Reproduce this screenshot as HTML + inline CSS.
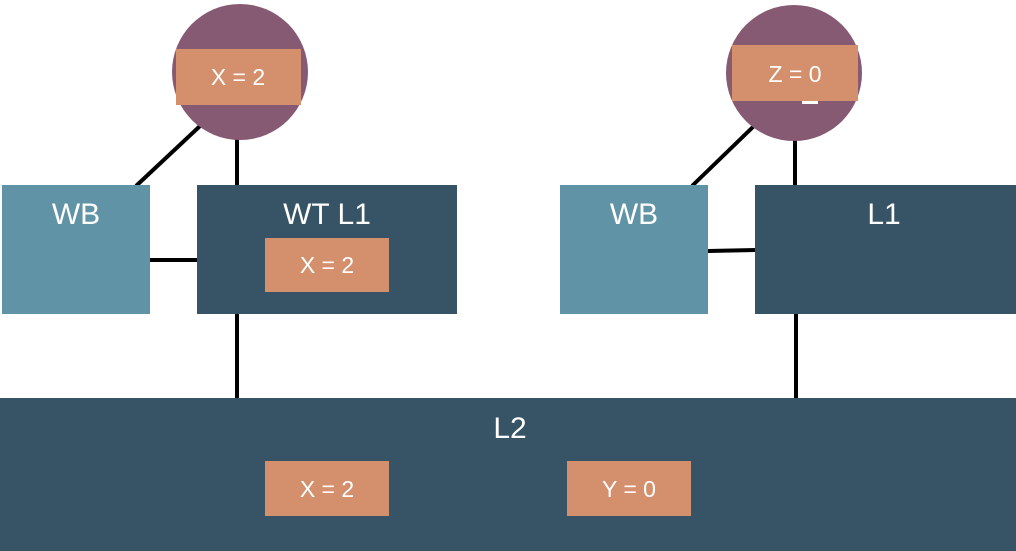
<!DOCTYPE html>
<html><head><meta charset="utf-8"><style>
html,body{margin:0;padding:0;background:#fff;}
svg{display:block;font-family:"Liberation Sans",sans-serif;}
</style></head><body>
<svg width="1016" height="551" viewBox="0 0 1016 551">
<g stroke="#000" stroke-width="4">
<line x1="200" y1="126" x2="136" y2="186"/>
<line x1="237" y1="138" x2="237" y2="186"/>
<line x1="150" y1="260" x2="198" y2="260"/>
<line x1="237" y1="313" x2="237" y2="399"/>
<line x1="754" y1="126" x2="692" y2="186"/>
<line x1="795" y1="138" x2="795" y2="186"/>
<line x1="708" y1="251" x2="756" y2="250"/>
<line x1="796" y1="313" x2="796" y2="399"/>
</g>
<circle cx="240" cy="72" r="68" fill="#875a74"/>
<rect x="176" y="49" width="125" height="56" fill="#d4906c"/>
<text x="238" y="85" fill="#fff" font-size="23" text-anchor="middle">X = 2</text>
<circle cx="794" cy="73" r="68" fill="#875a74"/>
<rect x="802" y="98" width="16" height="6" fill="#fff"/>
<rect x="732" y="45" width="126" height="56" fill="#d4906c"/>
<text x="795" y="82" fill="#fff" font-size="23" text-anchor="middle">Z = 0</text>
<rect x="2" y="185" width="148" height="129" fill="#6093a5"/>
<text x="76" y="224" fill="#fff" font-size="30" text-anchor="middle">WB</text>
<rect x="197" y="185" width="260" height="129" fill="#365465"/>
<text x="327" y="224" fill="#fff" font-size="30" text-anchor="middle">WT L1</text>
<rect x="265" y="238" width="124" height="54" fill="#d4906c"/>
<text x="327" y="273" fill="#fff" font-size="23" text-anchor="middle">X = 2</text>
<rect x="560" y="185" width="148" height="129" fill="#6093a5"/>
<text x="634" y="224" fill="#fff" font-size="30" text-anchor="middle">WB</text>
<rect x="755" y="185" width="261" height="129" fill="#365465"/>
<text x="884" y="224" fill="#fff" font-size="30" text-anchor="middle">L1</text>
<rect x="0" y="398" width="1016" height="153" fill="#365465"/>
<text x="510" y="438" fill="#fff" font-size="30" text-anchor="middle">L2</text>
<rect x="265" y="461" width="124" height="55" fill="#d4906c"/>
<text x="327" y="497" fill="#fff" font-size="23" text-anchor="middle">X = 2</text>
<rect x="567" y="461" width="124" height="55" fill="#d4906c"/>
<text x="629" y="497" fill="#fff" font-size="23" text-anchor="middle">Y = 0</text>
</svg>
</body></html>
